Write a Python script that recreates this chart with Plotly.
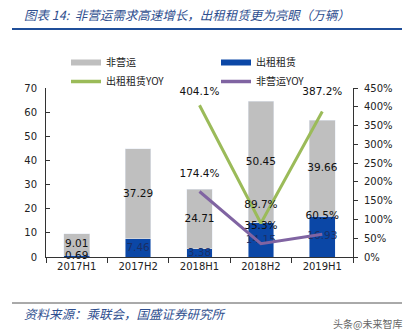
import plotly.graph_objects as go

categories = ["2017H1", "2017H2", "2018H1", "2018H2", "2019H1"]
rental = [0.69, 7.46, 3.38, 14.15, 16.93]          # 出租租赁
nonop = [9.01, 37.29, 24.71, 50.45, 39.66]         # 非营运
yoy_cats = ["2018H1", "2018H2", "2019H1"]
rental_yoy = [404.1, 89.7, 387.2]                  # 出租租赁YOY (%)
nonop_yoy = [174.4, 35.3, 60.5]                    # 非营运YOY (%)
left_ticks = [0, 10, 20, 30, 40, 50, 60, 70]
right_ticks = [0, 50, 100, 150, 200, 250, 300, 350, 400, 450]

W, H = 412, 335
L, R, T, B = 46, 59, 88, 78
PW, PH = W - L - R, H - T - B

def px_x(px):
    return (px - L) / PW

def px_y(py):
    return (H - B - py) / PH

GRAY = "#BFBFBF"
BLUE = "#0B47A6"
GREEN = "#9BBB59"
PURPLE = "#8064A2"
TXTBLUE = "#2F4F8F"
FONT = "DejaVu Sans, Noto Sans CJK SC"
CJK = "Noto Sans CJK SC"

fig = go.Figure()

fig.add_trace(go.Bar(x=categories, y=rental, marker_color=BLUE, width=0.42,
                     showlegend=False, name="出租租赁"))
fig.add_trace(go.Bar(x=categories, y=nonop, marker_color=GRAY, width=0.42,
                     showlegend=False, name="非营运"))

# bar segment labels (centered in segments)
rental_mid = [v / 2 for v in rental]
nonop_mid = [r + v / 2 for r, v in zip(rental, nonop)]
fig.add_trace(go.Scatter(x=categories, y=nonop_mid, mode="text",
                         text=[f"{v:.2f}" for v in nonop],
                         textfont=dict(family=FONT, size=10.5, color="#111"),
                         showlegend=False, hoverinfo="skip", cliponaxis=False))
fig.add_trace(go.Scatter(x=categories, y=rental_mid, mode="text",
                         text=[f"{v:.2f}" for v in rental],
                         textfont=dict(family=FONT, size=10.5,
                                       color=["#111", "#1A2F66", "#1A2F66", "#1A2F66", "#1A2F66"]),
                         showlegend=False, hoverinfo="skip", cliponaxis=False))

fig.add_trace(go.Scatter(x=yoy_cats, y=rental_yoy, yaxis="y2", mode="lines+markers+text",
                         line=dict(color=GREEN, width=3),
                         marker=dict(size=[10, 18, 20], opacity=0),
                         text=[f"{v:.1f}%" for v in rental_yoy], textposition="top center",
                         textfont=dict(family=FONT, size=10.5, color="#111"),
                         showlegend=False, hoverinfo="skip", cliponaxis=False))
fig.add_trace(go.Scatter(x=yoy_cats, y=nonop_yoy, yaxis="y2", mode="lines+markers+text",
                         line=dict(color=PURPLE, width=3),
                         marker=dict(size=18, opacity=0),
                         text=[f"{v:.1f}%" for v in nonop_yoy], textposition="top center",
                         textfont=dict(family=FONT, size=10.5, color="#111"),
                         showlegend=False, hoverinfo="skip", cliponaxis=False))

# legend entries (two columns)
for name, color, lg, w in [("非营运", GRAY, "legend", 6), ("出租租赁YOY", GREEN, "legend", 3.5),
                           ("出租租赁", BLUE, "legend2", 6), ("非营运YOY", PURPLE, "legend2", 3.5)]:
    fig.add_trace(go.Scatter(x=[None], y=[None], mode="lines", name=name, legend=lg,
                             line=dict(color=color, width=w)))

legend_common = dict(orientation="v", xanchor="left", yanchor="top",
                     font=dict(family=CJK, size=10, color="#222"),
                     bgcolor="rgba(0,0,0,0)", itemwidth=30, traceorder="normal",
                     tracegroupgap=0)

fig.update_layout(
    width=W, height=H, margin=dict(l=L, r=R, t=T, b=B),
    paper_bgcolor="white", plot_bgcolor="white",
    barmode="stack", bargap=0.58,
    font=dict(family=FONT, size=10, color="#222"),
    legend=dict(x=px_x(66), y=px_y(48), **legend_common),
    legend2=dict(x=px_x(216), y=px_y(48), **legend_common),
    xaxis=dict(type="category", showline=True, linecolor="#333", linewidth=1,
               ticks="outside", tickson="boundaries", ticklen=5, tickcolor="#333",
               tickfont=dict(family=FONT, size=10, color="#222"), showgrid=False,
               fixedrange=True),
    yaxis=dict(range=[0, 70], tickvals=left_ticks, showline=True, linecolor="#333", linewidth=1,
               ticks="inside", ticklen=4, tickcolor="#333", showgrid=False, zeroline=False,
               tickfont=dict(family=FONT, size=10, color="#222"), ticklabelstandoff=6),
    yaxis2=dict(range=[0, 450], tickvals=right_ticks, ticktext=[f"{v}%" for v in right_ticks],
                overlaying="y", side="right", showline=True, linecolor="#333", linewidth=1,
                ticks="outside", ticklen=4, tickcolor="#333", showgrid=False, zeroline=False,
                tickfont=dict(family=FONT, size=10, color="#222"), ticklabelstandoff=4),
)

fig.add_annotation(xref="paper", yref="paper", x=px_x(22), y=px_y(14), xanchor="left", yanchor="middle",
                   text="图表 14:  非营运需求高速增长，出租租赁更为亮眼（万辆）", showarrow=False,
                   font=dict(family=CJK, size=12.5, color=TXTBLUE, style="italic"))
fig.add_shape(type="line", xref="paper", yref="paper", x0=px_x(12), x1=px_x(402), y0=px_y(29), y1=px_y(29),
              line=dict(color="#1F4E99", width=2))
fig.add_shape(type="line", xref="paper", yref="paper", x0=px_x(12), x1=px_x(402), y0=px_y(303), y1=px_y(303),
              line=dict(color="#555", width=1))
fig.add_annotation(xref="paper", yref="paper", x=px_x(22), y=px_y(313), xanchor="left", yanchor="middle",
                   text="资料来源：乘联会，国盛证券研究所", showarrow=False,
                   font=dict(family=CJK, size=12.5, color=TXTBLUE, style="italic"))
fig.add_annotation(xref="paper", yref="paper", x=px_x(404), y=px_y(323), xanchor="right", yanchor="middle",
                   text="头条@未来智库", showarrow=False,
                   font=dict(family=CJK, size=10, color="#666"))

fig.write_html("out.html")
